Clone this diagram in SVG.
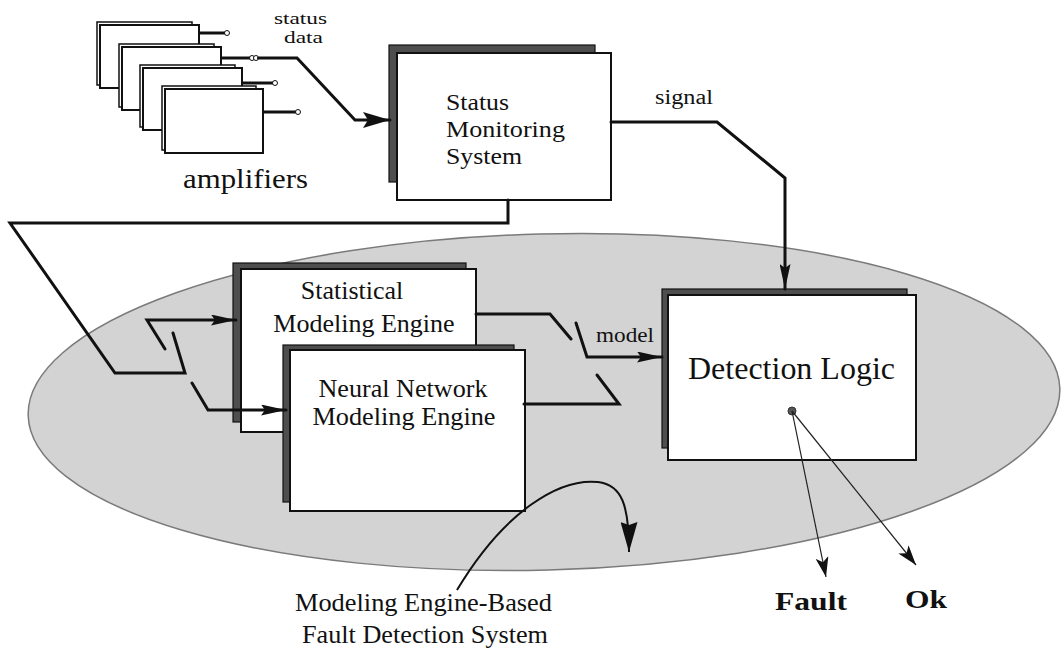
<svg xmlns="http://www.w3.org/2000/svg" width="1061" height="650" viewBox="0 0 1061 650">
  <defs>
    <style>
      .lbl { font-family: "Liberation Serif", "Times New Roman", serif; fill: #111; }
      .box { fill: #fff; stroke: #111; stroke-width: 2; }
      .shadow { fill: #4e4e4e; stroke: #111; stroke-width: 1.2; }
      .amp-back { fill: #fff; stroke: #111; stroke-width: 1.5; }
      .amp { fill: #fff; stroke: #111; stroke-width: 2; }
      .stub { fill: none; stroke: #111; stroke-width: 3; }
      .term { fill: #fff; stroke: #111; stroke-width: 1; }
      .wire { fill: none; stroke: #111; stroke-width: 3; stroke-linejoin: miter; stroke-linecap: round; }
      .thin { fill: none; stroke: #222; stroke-width: 1.2; }
    </style>
    <marker id="arrowBig" markerUnits="userSpaceOnUse" markerWidth="28" markerHeight="16" refX="27" refY="8" orient="auto">
      <path d="M0,0 L27,8 L0,16 L5,8 z" fill="#111"/>
    </marker>
    <marker id="arrow" markerUnits="userSpaceOnUse" markerWidth="26" markerHeight="11" refX="25" refY="5.5" orient="auto">
      <path d="M0,0 L25,5.5 L0,11 L4,5.5 z" fill="#111"/>
    </marker>
    <marker id="arrowThin" markerUnits="userSpaceOnUse" markerWidth="21" markerHeight="13" refX="20" refY="6.5" orient="auto">
      <path d="M0,0 L20,6.5 L0,13 L5,6.5 z" fill="#111"/>
    </marker>
    <marker id="arrowCurve" markerUnits="userSpaceOnUse" markerWidth="31" markerHeight="17" refX="30" refY="8.5" orient="auto">
      <path d="M0,0 L30,8.5 L0,17 L3,8.5 z" fill="#111"/>
    </marker>
  </defs>

  <rect x="0" y="0" width="1061" height="650" fill="#fff"/>

  <!-- enclosing system region -->
  <g id="fault-detection-system">
    <ellipse cx="544" cy="402" rx="516" ry="168" transform="rotate(-1.5 544 402)" fill="#d3d3d3" stroke="#7a7a7a" stroke-width="1.5"/>
    <text class="lbl" x="295" y="611" font-size="25" textLength="257" lengthAdjust="spacingAndGlyphs">Modeling Engine-Based</text>
    <text class="lbl" x="302" y="643" font-size="25" textLength="246" lengthAdjust="spacingAndGlyphs">Fault Detection System</text>
  </g>

  <!-- amplifier stack -->
  <g id="amplifiers">
    <g id="amp-1">
      <rect class="amp-back" x="97" y="22" width="95" height="63"/>
      <rect class="amp" x="100" y="25" width="99" height="63"/>
      <line class="stub" x1="199" y1="33" x2="225" y2="33"/>
      <circle class="term" cx="227" cy="33" r="2.5"/>
    </g>
    <g id="amp-2">
      <rect class="amp-back" x="119" y="44" width="95" height="63"/>
      <rect class="amp" x="122" y="47" width="99" height="63"/>
      <line class="stub" x1="221" y1="58" x2="250" y2="58"/>
      <circle class="term" cx="252" cy="58" r="2.5"/>
    </g>
    <g id="amp-3">
      <rect class="amp-back" x="140" y="65" width="95" height="62"/>
      <rect class="amp" x="143" y="68" width="99" height="62"/>
      <line class="stub" x1="242" y1="83" x2="273" y2="83"/>
      <circle class="term" cx="275" cy="83" r="2.5"/>
    </g>
    <g id="amp-4">
      <rect class="amp-back" x="162" y="86" width="94" height="64"/>
      <rect class="amp" x="165" y="89" width="98" height="64"/>
      <line class="stub" x1="263" y1="112" x2="296" y2="112"/>
      <circle class="term" cx="298" cy="112" r="2.5"/>
    </g>
    <text class="lbl" x="183" y="188" font-size="28" textLength="125" lengthAdjust="spacingAndGlyphs">amplifiers</text>
  </g>

  <!-- status monitoring system -->
  <g id="status-monitoring">
    <rect class="shadow" x="389" y="45" width="206" height="137"/>
    <rect class="box" x="397" y="53" width="214" height="147"/>
    <text class="lbl" x="446" y="110" font-size="24" textLength="63" lengthAdjust="spacingAndGlyphs">Status</text>
    <text class="lbl" x="446" y="137" font-size="24" textLength="119" lengthAdjust="spacingAndGlyphs">Monitoring</text>
    <text class="lbl" x="446" y="164" font-size="24" textLength="76" lengthAdjust="spacingAndGlyphs">System</text>
  </g>

  <!-- statistical modeling engine -->
  <g id="statistical-engine">
    <rect class="shadow" x="233" y="263" width="233" height="159"/>
    <rect class="box" x="241" y="269" width="235" height="163"/>
    <text class="lbl" x="352" y="299" font-size="26" text-anchor="middle">Statistical</text>
    <text class="lbl" x="364" y="332" font-size="26" text-anchor="middle">Modeling Engine</text>
  </g>

  <!-- neural network modeling engine -->
  <g id="neural-engine">
    <rect class="shadow" x="283" y="345" width="231" height="157"/>
    <rect class="box" x="290" y="350" width="235" height="161"/>
    <text class="lbl" x="403" y="397" font-size="25" text-anchor="middle" textLength="169" lengthAdjust="spacingAndGlyphs">Neural Network</text>
    <text class="lbl" x="404" y="425" font-size="25" text-anchor="middle" textLength="183" lengthAdjust="spacingAndGlyphs">Modeling Engine</text>
  </g>

  <!-- detection logic -->
  <g id="detection-logic">
    <rect class="shadow" x="662" y="289" width="245" height="159"/>
    <rect class="box" x="668" y="295" width="248" height="165"/>
    <text class="lbl" x="688" y="379" font-size="31" textLength="207" lengthAdjust="spacingAndGlyphs">Detection Logic</text>
    <circle cx="792" cy="411" r="4" fill="#555" stroke="#333" stroke-width="1"/>
  </g>

  <!-- outputs -->
  <g id="outputs">
    <text class="lbl" x="775" y="610" font-size="26" font-weight="bold" textLength="72" lengthAdjust="spacingAndGlyphs">Fault</text>
    <text class="lbl" x="905" y="608" font-size="26" font-weight="bold" textLength="42" lengthAdjust="spacingAndGlyphs">Ok</text>
  </g>

  <!-- connectors -->
  <g id="connectors">
    <!-- amplifier status data into the monitor -->
    <circle class="term" cx="256" cy="58" r="2.5"/>
    <path class="wire" d="M258.5,58 L297,58 L355,120 L390,120" marker-end="url(#arrowBig)"/>
    <text class="lbl" x="274" y="24" font-size="17" textLength="53" lengthAdjust="spacingAndGlyphs">status</text>
    <text class="lbl" x="284" y="43" font-size="17" textLength="39" lengthAdjust="spacingAndGlyphs">data</text>

    <!-- monitor signal to detection logic -->
    <path class="wire" d="M611,122 L717,122 L785,178 L785,289" marker-end="url(#arrow)"/>
    <text class="lbl" x="655" y="104" font-size="20" textLength="58" lengthAdjust="spacingAndGlyphs">signal</text>

    <!-- monitor feed to the engine selector switch -->
    <path class="wire" d="M508,200 L508,223 L10,223 L115,373 L185,373 L173,333"/>
    <path class="wire" d="M165,349 L147,320 L236,320" marker-end="url(#arrow)"/>
    <path class="wire" d="M192,383 L208,410 L286,410" marker-end="url(#arrow)"/>

    <!-- engine outputs through the model switch -->
    <path class="wire" d="M476,314 L550,314 L571,339"/>
    <path class="wire" d="M524,404 L619,404 L597,375"/>
    <path class="wire" d="M576,323 L587,357 L662,357" marker-end="url(#arrow)"/>
    <text class="lbl" x="596" y="342" font-size="20" textLength="58" lengthAdjust="spacingAndGlyphs">model</text>

    <!-- decision outputs -->
    <line class="thin" x1="792" y1="411" x2="826" y2="577" marker-end="url(#arrowThin)"/>
    <line class="thin" x1="792" y1="411" x2="916" y2="565" marker-end="url(#arrowThin)"/>

    <!-- label pointer -->
    <path fill="none" stroke="#111" stroke-width="2" d="M457,590 C505,510 560,478 598,482 C622,485 629,505 629,552" marker-end="url(#arrowCurve)"/>
  </g>
</svg>
